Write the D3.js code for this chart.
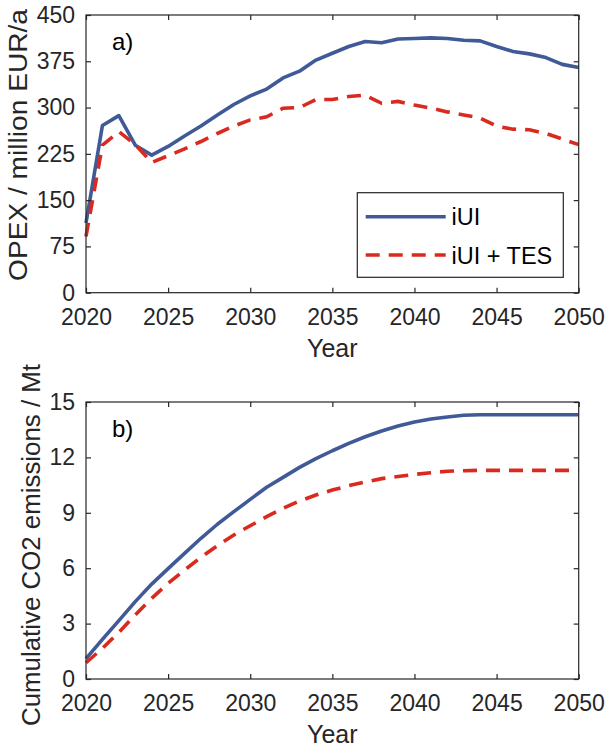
<!DOCTYPE html>
<html>
<head>
<meta charset="utf-8">
<script src="https://cdn.jsdelivr.net/npm/d3@7"></script>
<style>
  html, body { margin: 0; padding: 0; background: #fff; }
  svg { display: block; font-family: "Liberation Sans", Arial, Helvetica, sans-serif; }
  .tick text { fill: #262626; }
</style>
</head>
<body>
<div id="chart"></div>
<script>
const years = [2020, 2021, 2022, 2023, 2024, 2025, 2026, 2027, 2028, 2029, 2030,
  2031, 2032, 2033, 2034, 2035, 2036, 2037, 2038, 2039, 2040,
  2041, 2042, 2043, 2044, 2045, 2046, 2047, 2048, 2049, 2050];

// panel a) OPEX, million EUR/a
const opexIUI = [113, 271, 287, 239, 223, 237, 254, 270, 288, 305, 319,
  330, 348, 359, 377, 388, 399, 407, 405, 411, 412,
  413, 412, 409, 408, 399, 391, 387, 381, 370, 365];
const opexTES = [91, 239, 261, 240, 211, 222, 233, 245, 258, 270, 280,
  285, 299, 300, 313, 313, 318, 320, 307, 310, 304,
  299, 293, 288, 283, 270, 265, 264, 258, 249, 240];

// panel b) cumulative CO2, Mt
const co2IUI = [1.1, 2.15, 3.16, 4.19, 5.14, 5.98, 6.8, 7.62, 8.38, 9.06, 9.73,
  10.38, 10.92, 11.46, 11.93, 12.36, 12.76, 13.12, 13.43, 13.7, 13.92,
  14.08, 14.19, 14.28, 14.31, 14.31, 14.31, 14.31, 14.31, 14.31, 14.31];
const co2TES = [0.88, 1.66, 2.53, 3.47, 4.37, 5.18, 5.9, 6.59, 7.22, 7.8, 8.3,
  8.79, 9.24, 9.64, 9.96, 10.23, 10.47, 10.67, 10.85, 10.97, 11.08,
  11.17, 11.25, 11.28, 11.3, 11.3, 11.3, 11.3, 11.3, 11.3, 11.3];

const xTicks = [2020, 2025, 2030, 2035, 2040, 2045, 2050];
const opexTicks = [0, 75, 150, 225, 300, 375, 450];
const co2Ticks = [0, 3, 6, 9, 12, 15];
const seriesNames = ["iUI", "iUI + TES"];

const W = 608, H = 747;
const BLUE = "#3f5a97", RED = "#da2a1f", INK = "#262626";
const TICK_FS = 23, LABEL_FS = 25;

const svg = d3.select("#chart").append("svg")
  .attr("width", W).attr("height", H);

function drawPanel(cfg) {
  const x = d3.scaleLinear().domain([2020, 2050]).range([cfg.left, cfg.right]);
  const y = d3.scaleLinear().domain(cfg.yDomain).range([cfg.bottom, cfg.top]);
  const g = svg.append("g");

  const line = d3.line().x((d, i) => x(years[i])).y(d => y(d));

  g.append("path").datum(cfg.a)
    .attr("d", line).attr("fill", "none")
    .attr("stroke", BLUE).attr("stroke-width", 3.6)
    .attr("stroke-linejoin", "round");
  g.append("path").datum(cfg.b)
    .attr("d", line).attr("fill", "none")
    .attr("stroke", RED).attr("stroke-width", 3.6)
    .attr("stroke-dasharray", "14,9");

  const styleAxis = sel => {
    sel.select(".domain").remove();
    sel.selectAll(".tick line").attr("stroke", INK).attr("stroke-width", 1.2);
    sel.selectAll(".tick text").style("font-size", `${TICK_FS}px`).attr("fill", INK);
  };

  g.append("g").attr("transform", `translate(0,${cfg.bottom})`)
    .call(d3.axisBottom(x).tickValues(xTicks).tickFormat(d3.format("d"))
      .tickSizeInner(-5).tickSizeOuter(0).tickPadding(16))
    .call(styleAxis);
  g.append("g").attr("transform", `translate(0,${cfg.top})`)
    .call(d3.axisTop(x).tickValues(xTicks).tickFormat("")
      .tickSizeInner(-5).tickSizeOuter(0))
    .call(styleAxis);
  g.append("g").attr("transform", `translate(${cfg.left},0)`)
    .call(d3.axisLeft(y).tickValues(cfg.yTicks).tickFormat(d3.format("d"))
      .tickSizeInner(-5).tickSizeOuter(0).tickPadding(11))
    .call(styleAxis);
  g.append("g").attr("transform", `translate(${cfg.right},0)`)
    .call(d3.axisRight(y).tickValues(cfg.yTicks).tickFormat("")
      .tickSizeInner(-5).tickSizeOuter(0))
    .call(styleAxis);

  g.append("rect")
    .attr("x", cfg.left).attr("y", cfg.top)
    .attr("width", cfg.right - cfg.left).attr("height", cfg.bottom - cfg.top)
    .attr("fill", "none").attr("stroke", INK).attr("stroke-width", 1.2);

  g.append("text")
    .attr("x", cfg.left + 26).attr("y", cfg.top + 35)
    .attr("fill", "#000").style("font-size", "24px")
    .text(cfg.tag);

  g.append("text")
    .attr("x", (cfg.left + cfg.right) / 2).attr("y", cfg.bottom + 64)
    .attr("text-anchor", "middle").attr("fill", INK)
    .style("font-size", `${LABEL_FS}px`)
    .text("Year");

  // y label, stretched a bit along its length like the source figure
  g.append("text")
    .attr("transform", `translate(${cfg.yLabelX},${cfg.yLabelMid}) rotate(-90)`)
    .attr("x", -cfg.yLabelLen / 2)
    .attr("textLength", cfg.yLabelLen).attr("lengthAdjust", "spacingAndGlyphs")
    .attr("fill", INK)
    .style("font-size", `${LABEL_FS}px`)
    .text(cfg.yLabel);

  return g;
}

const gA = drawPanel({
  left: 86, right: 578.7, top: 15, bottom: 292.7,
  yDomain: [0, 450], yTicks: opexTicks,
  a: opexIUI, b: opexTES, tag: "a)",
  yLabel: "OPEX / million EUR/a", yLabelX: 27, yLabelMid: 145, yLabelLen: 272
});

drawPanel({
  left: 86, right: 578.7, top: 402, bottom: 679,
  yDomain: [0, 15], yTicks: co2Ticks,
  a: co2IUI, b: co2TES, tag: "b)",
  yLabel: "Cumulative CO2 emissions / Mt", yLabelX: 40, yLabelMid: 545, yLabelLen: 362
});

// legend, panel a)
const leg = gA.append("g");
leg.append("rect")
  .attr("x", 357.3).attr("y", 192.7).attr("width", 206).attr("height", 84.6)
  .attr("fill", "#fff").attr("stroke", INK).attr("stroke-width", 1.2);
[[BLUE, null], [RED, "14,9"]].forEach(([c, dash], i) => {
  const ly = 216.7 + i * 38.3;
  leg.append("line")
    .attr("x1", 365.7).attr("x2", 445.7).attr("y1", ly).attr("y2", ly)
    .attr("stroke", c).attr("stroke-width", 3.6)
    .attr("stroke-dasharray", dash);
  leg.append("text")
    .attr("x", 451.5).attr("y", ly + 8.5)
    .attr("fill", "#000").style("font-size", "23.5px")
    .text(seriesNames[i]);
});
</script>
</body>
</html>
